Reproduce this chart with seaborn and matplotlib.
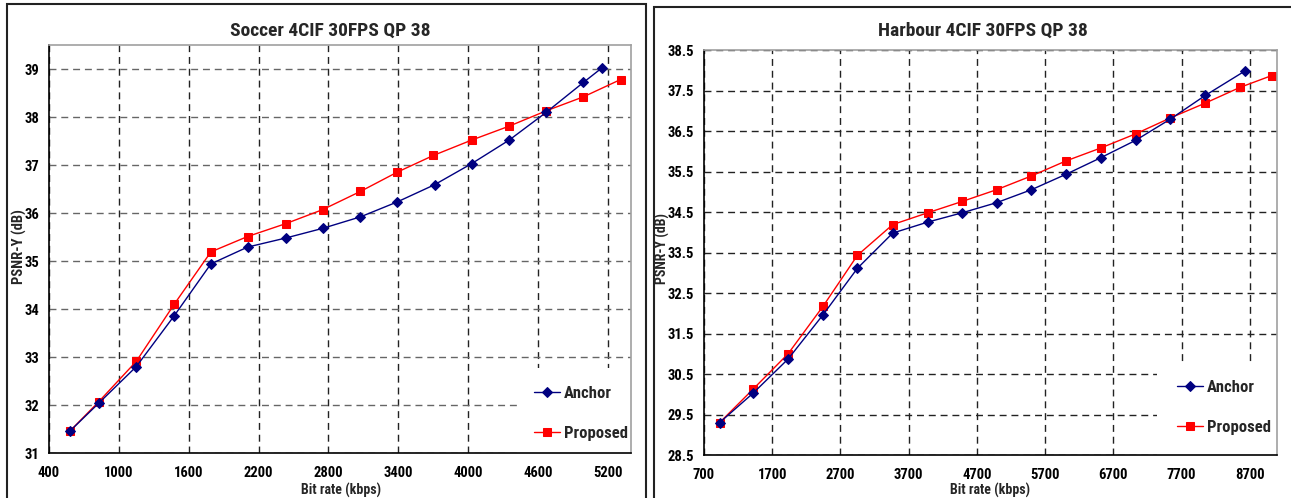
import matplotlib
matplotlib.use('Agg')
import matplotlib.pyplot as plt
import seaborn as sns
import pandas as pd
from matplotlib.patches import Rectangle

# ---------------- data ----------------
soccer_anchor_rate = [577, 828, 1150, 1476, 1791, 2106, 2436, 2751, 3076, 3391, 3713, 4032, 4354, 4673, 4991, 5154]
soccer_anchor_psnr = [31.45, 32.04, 32.80, 33.86, 34.94, 35.29, 35.48, 35.68, 35.92, 36.23, 36.59, 37.03, 37.52, 38.10, 38.72, 39.03]
soccer_prop_rate = [577, 828, 1150, 1476, 1791, 2106, 2436, 2751, 3076, 3391, 3703, 4032, 4354, 4673, 4991, 5310]
soccer_prop_psnr = [31.45, 32.07, 32.91, 34.10, 35.19, 35.51, 35.78, 36.07, 36.45, 36.85, 37.20, 37.52, 37.81, 38.13, 38.42, 38.78]

harbour_anchor_rate = [929, 1422, 1933, 2444, 2949, 3467, 3978, 4484, 4989, 5500, 6005, 6516, 7028, 7533, 8050, 8628]
harbour_anchor_psnr = [29.30, 30.03, 30.87, 31.96, 33.11, 33.98, 34.25, 34.48, 34.73, 35.05, 35.43, 35.84, 36.27, 36.79, 37.38, 37.98]
harbour_prop_rate = [929, 1422, 1933, 2444, 2949, 3467, 3978, 4484, 4989, 5500, 6005, 6516, 7028, 7533, 8050, 8562, 9025]
harbour_prop_psnr = [29.30, 30.13, 31.00, 32.17, 33.43, 34.19, 34.48, 34.76, 35.05, 35.39, 35.76, 36.08, 36.43, 36.82, 37.19, 37.58, 37.87]

soccer_xticks = [400, 1000, 1600, 2200, 2800, 3400, 4000, 4600, 5200]
soccer_yticks = [31, 32, 33, 34, 35, 36, 37, 38, 39]
harbour_xticks = [700, 1700, 2700, 3700, 4700, 5700, 6700, 7700, 8700]
harbour_yticks = [28.5, 29.5, 30.5, 31.5, 32.5, 33.5, 34.5, 35.5, 36.5, 37.5, 38.5]

series_names = ["Anchor", "Proposed"]
title_soccer = "Soccer 4CIF 30FPS QP 38"
title_harbour = "Harbour 4CIF 30FPS QP 38"
xlabel = "Bit rate (kbps)"
ylabel = "PSNR-Y (dB)"

# ---------------- style ----------------
sns.set_style("white")
FONT = ['Roboto Condensed', 'Liberation Sans', 'DejaVu Sans']
plt.rcParams['font.family'] = FONT
plt.rcParams['font.weight'] = 'bold'

W, H = 1291, 498
fig = plt.figure(figsize=(W / 100, H / 100), dpi=100)


def px_axes(l, t, r, b):
    return [l / W, 1 - b / H, (r - l) / W, (b - t) / H]


def draw_panel(ax, ar, ap, pr, pp, xticks, yticks, xlim, ylim, hgrid_col,
               rect, leg_anchor):
    df_a = pd.DataFrame({"rate": ar, "psnr": ap})
    df_p = pd.DataFrame({"rate": pr, "psnr": pp})
    ax.set_axisbelow(True)
    ax.add_patch(Rectangle(rect[:2], rect[2], rect[3], transform=ax.transAxes,
                           facecolor='white', edgecolor='none', zorder=1))
    sns.lineplot(data=df_a, x="rate", y="psnr", ax=ax, color='#000080',
                 marker='D', markersize=5, markeredgecolor='#000080',
                 linewidth=1.0, label=series_names[0], sort=False, zorder=3)
    sns.lineplot(data=df_p, x="rate", y="psnr", ax=ax, color='#ff0000',
                 marker='s', markersize=6, markeredgecolor='#ff0000',
                 linewidth=1.0, label=series_names[1], sort=False, zorder=2.5)
    ax.set_xlim(*xlim)
    ax.set_ylim(*ylim)
    ax.set_xticks(xticks)
    ax.set_yticks(yticks)
    ax.set_xticklabels([str(v) for v in xticks])
    ax.set_yticklabels([("%g" % v) for v in yticks])
    ax.xaxis.grid(True, color='#222222', linestyle=(0, (5, 3.5)), linewidth=1.0)
    ax.yaxis.grid(True, color=hgrid_col, linestyle=(0, (5, 3.5)), linewidth=1.0)
    ax.tick_params(direction='inout', length=6, width=1, labelsize=10.5,
                   colors='black', pad=4)
    ax.tick_params(axis='x', pad=6)
    for s in ['left', 'bottom']:
        ax.spines[s].set_color('black')
        ax.spines[s].set_linewidth(1.2)
    for s in ['top', 'right']:
        ax.spines[s].set_color('#a0a0a0')
        ax.spines[s].set_linewidth(1.2)
    ax.set_xlabel("")
    ax.set_ylabel("")
    ax.legend(loc='upper left', bbox_to_anchor=leg_anchor, frameon=False,
              borderpad=0, borderaxespad=0, handlelength=1.6, handletextpad=0.2,
              labelspacing=1.5, prop={'family': FONT, 'weight': 'bold', 'size': 12})


ax1 = fig.add_axes(px_axes(49, 45, 631, 453))
draw_panel(ax1, soccer_anchor_rate, soccer_anchor_psnr, soccer_prop_rate,
           soccer_prop_psnr, soccer_xticks, soccer_yticks, (400, 5400), (31, 39.5),
           '#666666', (0.806, 0.0, 0.2, 0.208), (0.833, 0.165))

ax2 = fig.add_axes(px_axes(704, 50, 1277, 455))
draw_panel(ax2, harbour_anchor_rate, harbour_anchor_psnr, harbour_prop_rate,
           harbour_prop_psnr, harbour_xticks, harbour_yticks, (700, 9100), (28.5, 38.5),
           '#222222', (0.79, 0.0, 0.21, 0.222), (0.825, 0.185))

# titles and axis labels
fig.text(330 / W, 1 - 31 / H, title_soccer, ha='center', va='center', fontsize=14)
fig.text(983 / W, 1 - 31 / H, title_harbour, ha='center', va='center', fontsize=14)
fig.text(341 / W, 1 - 490 / H, xlabel, ha='center', va='center', fontsize=10)
fig.text(990 / W, 1 - 490 / H, xlabel, ha='center', va='center', fontsize=10)
fig.text(19 / W, 1 - 247 / H, ylabel, ha='center', va='center', rotation=90, fontsize=10.5)
fig.text(662 / W, 1 - 249 / H, ylabel, ha='center', va='center', rotation=90, fontsize=10)

# chart area frames
fig.patches.append(Rectangle((7 / W, -0.05), (646 - 7) / W, 1.05 - 4 / H,
                             transform=fig.transFigure, fill=False,
                             edgecolor='#222222', linewidth=1.5))
fig.patches.append(Rectangle((654 / W, -0.05), (W + 20 - 654) / W, 1.05 - 7 / H,
                             transform=fig.transFigure, fill=False,
                             edgecolor='#222222', linewidth=1.5))

fig.savefig("out.png", dpi=100)
